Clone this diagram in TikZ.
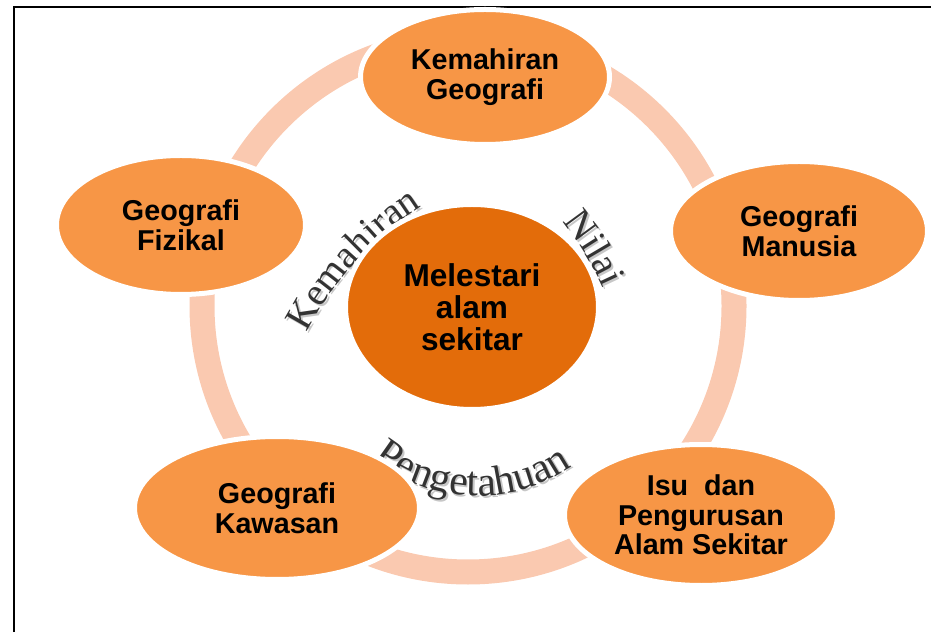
\documentclass[tikz,border=0pt]{standalone}
\usepackage{fontspec}
\setsansfont{Liberation Sans}
\newfontfamily\wordartfont{Liberation Serif}
\usetikzlibrary{shapes.geometric,decorations.text}

\definecolor{petal}{RGB}{247,150,70}
\definecolor{hub}{RGB}{227,108,10}
\definecolor{band}{RGB}{250,201,176}

\newcommand\petalfont{\sffamily\bfseries\fontsize{28.7}{29.5}\selectfont}
\newcommand\hubfont{\sffamily\bfseries\fontsize{31.6}{32}\selectfont}

% word set along an arc: centre, radius, start, end, size, word
\newcommand\arcword[6]{%
  \path[shift={(1.8,-1.8)},decorate,decoration={text along path,text align=left,
    text color=black!22,text={|\wordartfont\fontsize{#5}{#5}\selectfont|#6}}]
    (#1) ++(#3:#2) arc (#3:#4:#2);
  \path[decorate,decoration={text along path,text align=left,
    text color=black!80,text={|\wordartfont\fontsize{#5}{#5}\selectfont|#6}}]
    (#1) ++(#3:#2) arc (#3:#4:#2);}

\begin{document}
\begin{tikzpicture}[x=1pt,y=1pt,
	petal/.style={ellipse,fill=petal,draw=white,line width=5,inner sep=0,
		align=center,font=\petalfont},
	hub/.style={petal,fill=hub,font=\hubfont}]
	\useasboundingbox (0,0) rectangle (931,632);

	\draw [line width=2] (14,0) -- (14,625) -- (931,625);

	\draw [band,line width=25] (468,326) circle (266);

	\arcword{599,148}{329}{152.7}{112}{39}{Kemahiran}
	\arcword{330,222}{299}{39}{12}{39}{Nilai}
	\arcword{477,302}{166}{231}{318}{42}{Pengetahuan}

	\node [hub,minimum width=253,minimum height=205] (hub) at (472,325) {Melestari\\alam\\sekitar};

	\node [petal,minimum width=249,minimum height=135] (kemahiran) at (485,555) {Kemahiran\\Geografi};
	\node [petal,minimum width=257,minimum height=139] (manusia) at (799,401) {Geografi\\Manusia};
	\node [petal,minimum width=273,minimum height=141] (isu) at (701,117) {Isu\ \ dan\\Pengurusan\\Alam Sekitar};
	\node [petal,minimum width=285,minimum height=143] (kawasan) at (277,124) {Geografi\\Kawasan};
	\node [petal,minimum width=249,minimum height=139] (fizikal) at (181,407) {Geografi\\Fizikal};
\end{tikzpicture}
\end{document}
